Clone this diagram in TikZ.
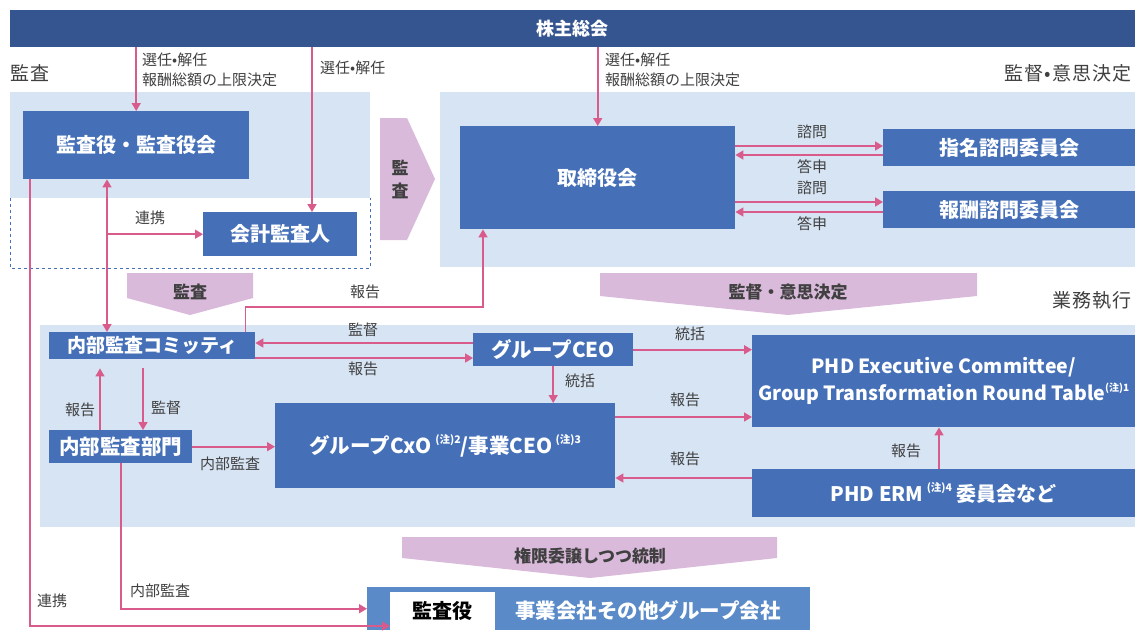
\documentclass[tikz,border=0pt]{standalone}
\usepackage{fontspec}
\setmainfont{Noto Sans CJK JP}
\usetikzlibrary{arrows.meta}
\definecolor{dark}{HTML}{34558F}
\definecolor{boxb}{HTML}{4570B8}
\definecolor{panel}{HTML}{D7E4F4}
\definecolor{pk}{HTML}{D95B8C}
\definecolor{lav}{HTML}{D9BADB}
\definecolor{botb}{HTML}{5A8BC8}
\definecolor{lbl}{HTML}{404040}
\newcommand{\chunote}[1]{\,\raisebox{0.5em}{\fontsize{10.5}{11}\selectfont (注)#1}}
\newcommand{\chunotetight}[1]{\raisebox{0.5em}{\fontsize{10}{11}\selectfont(注)#1}}
\tikzset{
 box/.style={fill=boxb, draw=none, text=white, font=\bfseries\fontsize{20}{24}\selectfont, inner sep=0pt, anchor=north west},
 lbox/.style={box, font=\bfseries\fontsize{20.5}{28}\selectfont},
 arr/.style={draw=pk, line width=1.6pt, -{Triangle[length=8pt,width=9pt]}},
 arrtwo/.style={draw=pk, line width=1.6pt, {Triangle[length=8pt,width=9pt]}-{Triangle[length=8pt,width=9pt]}},
 lab/.style={text=lbl, font=\fontsize{15}{16}\selectfont, inner sep=0pt},
 hdr/.style={text=lbl, font=\fontsize{19}{21}\selectfont\addfontfeatures{LetterSpace=6}, inner sep=0pt},
 chevtxt/.style={text=lbl, font=\bfseries\fontsize{17}{23}\selectfont, inner sep=0pt},
}
\begin{document}
\begin{tikzpicture}[x=1pt,y=-1pt]
\useasboundingbox[fill=white] (0,0) rectangle (1140,630);
% panels
\fill[panel] (10,92) rectangle (370,198);
\draw[boxb, dashed, line width=1pt] (10,198) -- (10,268) -- (370,268) -- (370,198);
\fill[panel] (440,92) rectangle (1135,267);
\fill[panel] (40,325) rectangle (1135,527);
% chevrons
\fill[lav] (380,118) -- (407,118) -- (435,179) -- (407,240) -- (380,240) -- cycle;
\node[chevtxt, align=center] (chv1) at (400,179) {監\\査};
\fill[lav] (127,273) -- (253,273) -- (253,298) -- (190,315) -- (127,298) -- cycle;
\node[chevtxt] (chv2) at (190,292) {監査};
\fill[lav] (600,273) -- (977,273) -- (977,296) -- (788,315) -- (600,296) -- cycle;
\node[chevtxt] (chv3) at (788,292) {監督・意思決定};
\fill[lav] (402,537) -- (777,537) -- (777,558) -- (590,578) -- (402,558) -- cycle;
\node[chevtxt] (chv4) at (590,556) {権限委譲しつつ統制};
% headers
\node[hdr, anchor=west] (h1) at (10,73) {監査};
\node[hdr, anchor=east] (h2) at (1132,73) {監督•意思決定};
\node[hdr, anchor=east] (h3) at (1132,300) {業務執行};
% boxes
\node[fill=dark, minimum width=1125pt, minimum height=37pt, anchor=north west, inner sep=0pt, text=white, font=\bfseries\fontsize{18}{20}\selectfont] (kabu) at (10,10) {株主総会};
\node[box, minimum width=226pt, minimum height=68pt] (kansa) at (23,111) {監査役・監査役会};
\node[box, minimum width=154pt, minimum height=44pt] (kaikei) at (203,212) {会計監査人};
\node[box, minimum width=275pt, minimum height=103pt] (tori) at (460,126) {取締役会};
\node[box, minimum width=252pt, minimum height=37pt] (shimei) at (883,129) {指名諮問委員会};
\node[box, minimum width=252pt, minimum height=37pt] (hoshu) at (883,191) {報酬諮問委員会};
\node[lbox, font=\bfseries\fontsize{19}{24}\selectfont, minimum width=206pt, minimum height=27pt] (comity) at (49,332) {内部監査コミッティ};
\node[lbox, minimum width=160pt, minimum height=33pt] (gceo) at (473,333) {グループCEO};
\node[lbox, minimum width=143pt, minimum height=33pt] (buin) at (49,430) {内部監査部門};
\node[lbox, minimum width=340pt, minimum height=85pt] (cxo) at (275,403) {グループCxO\chunote{2}/事業CEO\chunote{3}};
\node[lbox, font=\bfseries\fontsize{19.5}{27}\selectfont, minimum width=383pt, minimum height=92pt, align=center] (phd) at (752,335) {PHD Executive Committee/\\Group Transformation Round Table\chunotetight{1}};
\node[lbox, font=\bfseries\fontsize{20}{24}\selectfont, minimum width=383pt, minimum height=48pt] (erm) at (752,469) {PHD ERM\chunote{4} 委員会など};
\node[fill=botb, minimum width=443pt, minimum height=43pt, anchor=north west, inner sep=0pt] (bottom) at (367,587) {};
\node[fill=white, minimum width=105pt, minimum height=38pt, anchor=north west, inner sep=0pt, text=black, font=\bfseries\fontsize{20}{24}\selectfont] (wbox) at (390,592) {監査役};
\node[text=white, font=\bfseries\fontsize{20.5}{24}\selectfont, inner sep=0pt] (btxt) at (648,611) {事業会社その他グループ会社};
% connectors top
\draw[arr] (kabu.south -| kansa.north) -- (kansa.north);
\draw[arr] (kabu.south -| 312,0) -- (kaikei.north -| 312,0);
\draw[arr] (kabu.south -| tori.north) -- (tori.north);
\draw[arrtwo] (kansa.south -| 107,0) -- (comity.north -| 107,0);
\draw[arr] (kaikei.west -| 107,0) -- (kaikei.west);
\draw[arr] (tori.east |- 0,146) -- (shimei.west |- 0,146);
\draw[arr] (shimei.west |- 0,155) -- (tori.east |- 0,155);
\draw[arr] (tori.east |- 0,202) -- (hoshu.west |- 0,202);
\draw[arr] (hoshu.west |- 0,212) -- (tori.east |- 0,212);
% connectors lower
\draw[arr] ([xshift=-10pt]comity.north east) -- ++(0,-25) -| ([xshift=23pt]tori.south west);
\draw[arr] (gceo.west |- 0,343) -- (comity.east |- 0,343);
\draw[arr] (comity.east |- 0,358) -- (gceo.west |- 0,358);
\draw[arr, shorten >=9pt] (buin.north -| 100,0) -- (comity.south -| 100,0);
\draw[arr, shorten <=9pt] (comity.south -| 143,0) -- (buin.north -| 143,0);
\draw[arr] (gceo.south) -- (cxo.north -| gceo.south);
\draw[arr] (gceo.east) -- (phd.west |- gceo.east);
\draw[arr] (cxo.east |- 0,417) -- (phd.west |- 0,417);
\draw[arr] (erm.west |- 0,478) -- (cxo.east |- 0,478);
\draw[arr] (erm.north -| 939,0) -- (phd.south -| 939,0);
\draw[arr] (buin.east) -- (cxo.west |- buin.east);
\draw[arr] ([xshift=7pt]kansa.south west) |- (wbox.west |- 0,626);
\draw[arr] (buin.south) |- (bottom.west);
% labels
\node[lab, anchor=west] (l1) at (142,60) {選任•解任};
\node[lab, anchor=west] (l2) at (142,80) {報酬総額の上限決定};
\node[lab, anchor=west] (l3) at (320,68) {選任•解任};
\node[lab, anchor=west] (l4) at (605,60) {選任•解任};
\node[lab, anchor=west] (l5) at (605,80) {報酬総額の上限決定};
\node[lab] (l6) at (150,218) {連携};
\node[lab] (l7) at (812,132) {諮問};
\node[lab] (l8) at (812,167) {答申};
\node[lab] (l9) at (812,188) {諮問};
\node[lab] (l10) at (812,224) {答申};
\node[lab] (l11) at (365,292) {報告};
\node[lab] (l12) at (363,330) {監督};
\node[lab] (l13) at (363,369) {報告};
\node[lab] (l14) at (690,334) {統括};
\node[lab] (l15) at (580,381) {統括};
\node[lab] (l16) at (685,400) {報告};
\node[lab] (l17) at (685,459) {報告};
\node[lab] (l18) at (906,451) {報告};
\node[lab] (l19) at (80,410) {報告};
\node[lab] (l20) at (166,408) {監督};
\node[lab] (l21) at (230,464) {内部監査};
\node[lab] (l22) at (160,591) {内部監査};
\node[lab] (l23) at (52,601) {連携};
\end{tikzpicture}
\end{document}
